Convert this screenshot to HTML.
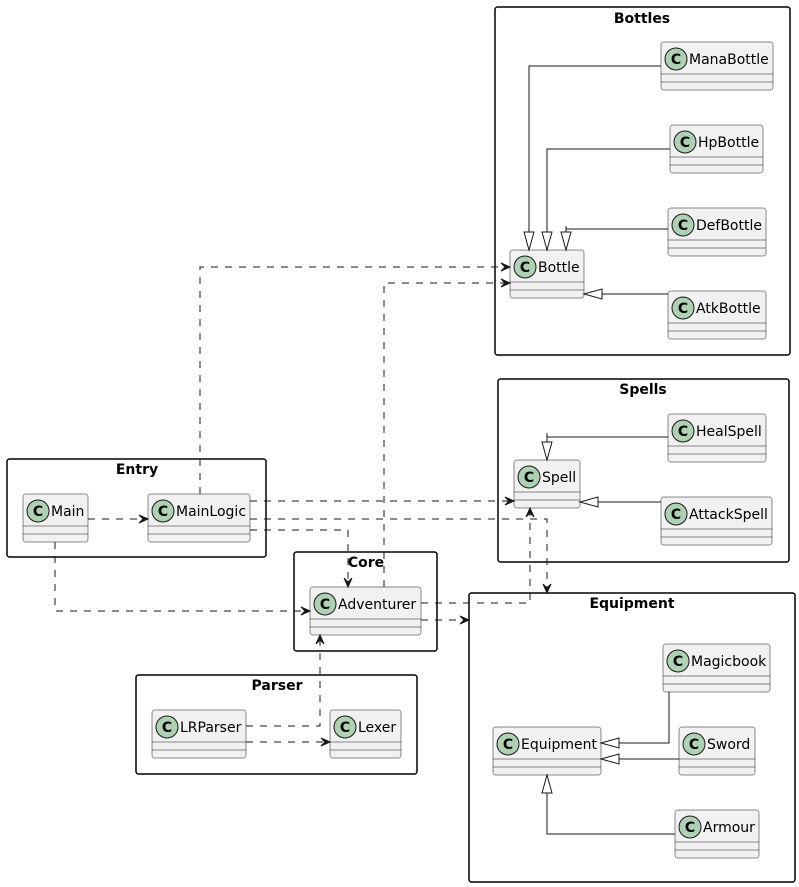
<!DOCTYPE html>
<html><head><meta charset="utf-8"><style>
html,body{margin:0;padding:0;background:#fff;}
svg{display:block;}
text{font-family:"DejaVu Sans","Liberation Sans",sans-serif;}
.cls{fill:#F1F1F1;stroke:#181818;stroke-width:0.5;}
.circ{fill:#ADD1B2;stroke:#181818;stroke-width:1;}
.cl{font-size:14px;font-weight:bold;fill:#000;text-anchor:middle;}
.nm{font-size:14px;fill:#000;}
.div{stroke:#181818;stroke-width:0.5;}
.pkg{fill:none;stroke:#000;stroke-width:1.5;}
.pt{font-size:14px;font-weight:bold;text-anchor:middle;fill:#000;}
.dash{fill:none;stroke:#181818;stroke-width:1;stroke-dasharray:7,7;}
.sol{fill:none;stroke:#181818;stroke-width:1;}
.ah{fill:#181818;stroke:#181818;stroke-width:1;}
.tri{fill:#fff;stroke:#181818;stroke-width:1;}
</style></head><body>
<svg width="799" height="887" viewBox="0 0 799 887" xmlns="http://www.w3.org/2000/svg">
<!-- packages -->
<rect class="pkg" x="495" y="7" width="295" height="348" rx="2.5"/>
<text class="pt" x="642" y="23">Bottles</text>
<rect class="pkg" x="498" y="379" width="291" height="183" rx="2.5"/>
<text class="pt" x="643" y="394">Spells</text>
<rect class="pkg" x="469" y="593" width="326" height="289" rx="2.5"/>
<text class="pt" x="632" y="608">Equipment</text>
<rect class="pkg" x="7" y="459" width="259" height="98" rx="2.5"/>
<text class="pt" x="137" y="474">Entry</text>
<rect class="pkg" x="294" y="552" width="143" height="99" rx="2.5"/>
<text class="pt" x="366" y="567">Core</text>
<rect class="pkg" x="136" y="675" width="281" height="99" rx="2.5"/>
<text class="pt" x="277" y="690">Parser</text>

<!-- classes -->
<g>
<rect class="cls" x="661" y="42" width="112" height="48" rx="2.5"/><circle class="circ" cx="676" cy="59" r="11"/><text class="cl" x="676" y="64">C</text><text class="nm" x="689" y="64">ManaBottle</text><line class="div" x1="661" y1="74" x2="773" y2="74"/><line class="div" x1="661" y1="82" x2="773" y2="82"/>
</g>
<g>
<rect class="cls" x="670" y="125" width="93" height="48" rx="2.5"/><circle class="circ" cx="685" cy="142" r="11"/><text class="cl" x="685" y="147">C</text><text class="nm" x="698" y="147">HpBottle</text><line class="div" x1="670" y1="157" x2="763" y2="157"/><line class="div" x1="670" y1="165" x2="763" y2="165"/>
</g>
<g>
<rect class="cls" x="668" y="208" width="98" height="48" rx="2.5"/><circle class="circ" cx="683" cy="225" r="11"/><text class="cl" x="683" y="230">C</text><text class="nm" x="696" y="230">DefBottle</text><line class="div" x1="668" y1="240" x2="766" y2="240"/><line class="div" x1="668" y1="248" x2="766" y2="248"/>
</g>
<g>
<rect class="cls" x="510" y="250" width="74" height="48" rx="2.5"/><circle class="circ" cx="525" cy="267" r="11"/><text class="cl" x="525" y="272">C</text><text class="nm" x="538" y="272">Bottle</text><line class="div" x1="510" y1="282" x2="584" y2="282"/><line class="div" x1="510" y1="290" x2="584" y2="290"/>
</g>
<g>
<rect class="cls" x="668" y="291" width="98" height="48" rx="2.5"/><circle class="circ" cx="683" cy="308" r="11"/><text class="cl" x="683" y="313">C</text><text class="nm" x="696" y="313">AtkBottle</text><line class="div" x1="668" y1="323" x2="766" y2="323"/><line class="div" x1="668" y1="331" x2="766" y2="331"/>
</g>
<g>
<rect class="cls" x="668" y="414" width="98" height="48" rx="2.5"/><circle class="circ" cx="683" cy="431" r="11"/><text class="cl" x="683" y="436">C</text><text class="nm" x="696" y="436">HealSpell</text><line class="div" x1="668" y1="446" x2="766" y2="446"/><line class="div" x1="668" y1="454" x2="766" y2="454"/>
</g>
<g>
<rect class="cls" x="514" y="460" width="66" height="48" rx="2.5"/><circle class="circ" cx="529" cy="477" r="11"/><text class="cl" x="529" y="482">C</text><text class="nm" x="542" y="482">Spell</text><line class="div" x1="514" y1="492" x2="580" y2="492"/><line class="div" x1="514" y1="500" x2="580" y2="500"/>
</g>
<g>
<rect class="cls" x="661" y="497" width="111" height="48" rx="2.5"/><circle class="circ" cx="676" cy="514" r="11"/><text class="cl" x="676" y="519">C</text><text class="nm" x="689" y="519">AttackSpell</text><line class="div" x1="661" y1="529" x2="772" y2="529"/><line class="div" x1="661" y1="537" x2="772" y2="537"/>
</g>
<g>
<rect class="cls" x="663" y="644" width="107" height="48" rx="2.5"/><circle class="circ" cx="678" cy="661" r="11"/><text class="cl" x="678" y="666">C</text><text class="nm" x="691" y="666">Magicbook</text><line class="div" x1="663" y1="676" x2="770" y2="676"/><line class="div" x1="663" y1="684" x2="770" y2="684"/>
</g>
<g>
<rect class="cls" x="493" y="727" width="108" height="48" rx="2.5"/><circle class="circ" cx="508" cy="744" r="11"/><text class="cl" x="508" y="749">C</text><text class="nm" x="521" y="749">Equipment</text><line class="div" x1="493" y1="759" x2="601" y2="759"/><line class="div" x1="493" y1="767" x2="601" y2="767"/>
</g>
<g>
<rect class="cls" x="679" y="727" width="76" height="48" rx="2.5"/><circle class="circ" cx="694" cy="744" r="11"/><text class="cl" x="694" y="749">C</text><text class="nm" x="707" y="749">Sword</text><line class="div" x1="679" y1="759" x2="755" y2="759"/><line class="div" x1="679" y1="767" x2="755" y2="767"/>
</g>
<g>
<rect class="cls" x="675" y="810" width="84" height="48" rx="2.5"/><circle class="circ" cx="690" cy="827" r="11"/><text class="cl" x="690" y="832">C</text><text class="nm" x="703" y="832">Armour</text><line class="div" x1="675" y1="842" x2="759" y2="842"/><line class="div" x1="675" y1="850" x2="759" y2="850"/>
</g>
<g>
<rect class="cls" x="23" y="494" width="65" height="48" rx="2.5"/><circle class="circ" cx="38" cy="511" r="11"/><text class="cl" x="38" y="516">C</text><text class="nm" x="51" y="516">Main</text><line class="div" x1="23" y1="526" x2="88" y2="526"/><line class="div" x1="23" y1="534" x2="88" y2="534"/>
</g>
<g>
<rect class="cls" x="148" y="494" width="102" height="48" rx="2.5"/><circle class="circ" cx="163" cy="511" r="11"/><text class="cl" x="163" y="516">C</text><text class="nm" x="176" y="516">MainLogic</text><line class="div" x1="148" y1="526" x2="250" y2="526"/><line class="div" x1="148" y1="534" x2="250" y2="534"/>
</g>
<g>
<rect class="cls" x="310" y="587" width="111" height="48" rx="2.5"/><circle class="circ" cx="325" cy="604" r="11"/><text class="cl" x="325" y="609">C</text><text class="nm" x="338" y="609">Adventurer</text><line class="div" x1="310" y1="619" x2="421" y2="619"/><line class="div" x1="310" y1="627" x2="421" y2="627"/>
</g>
<g>
<rect class="cls" x="152" y="710" width="94" height="48" rx="2.5"/><circle class="circ" cx="167" cy="727" r="11"/><text class="cl" x="167" y="732">C</text><text class="nm" x="180" y="732">LRParser</text><line class="div" x1="152" y1="742" x2="246" y2="742"/><line class="div" x1="152" y1="750" x2="246" y2="750"/>
</g>
<g>
<rect class="cls" x="330" y="710" width="71" height="48" rx="2.5"/><circle class="circ" cx="345" cy="727" r="11"/><text class="cl" x="345" y="732">C</text><text class="nm" x="358" y="732">Lexer</text><line class="div" x1="330" y1="742" x2="401" y2="742"/><line class="div" x1="330" y1="750" x2="401" y2="750"/>
</g>

<!-- generalization edges -->
<polyline class="sol" points="661,66 529,66 529,232"/>
<polygon class="tri" points="529,250 524,232 534,232"/>
<polyline class="sol" points="670,149 547,149 547,232"/>
<polygon class="tri" points="547,250 542,232 552,232"/>
<polyline class="sol" points="668,229 566,229 566,232"/>
<line class="sol" x1="566" y1="226" x2="566" y2="232"/>
<polygon class="tri" points="566,250 561,232 571,232"/>
<line class="sol" x1="668" y1="294" x2="602" y2="294"/>
<polygon class="tri" points="584,294 602,289 602,299"/>

<polyline class="sol" points="668,437 547,437 547,442"/>
<line class="sol" x1="547" y1="433" x2="547" y2="442"/>
<polygon class="tri" points="547,460 542,442 552,442"/>
<line class="sol" x1="661" y1="502" x2="598" y2="502"/>
<polygon class="tri" points="580,502 598,497 598,507"/>

<polyline class="sol" points="669,692 669,743 619,743"/>
<polygon class="tri" points="601,743 619,738 619,748"/>
<line class="sol" x1="679" y1="759" x2="619" y2="759"/>
<polygon class="tri" points="601,759 619,754 619,764"/>
<polyline class="sol" points="675,834 547,834 547,793"/>
<polygon class="tri" points="547,775 542,793 552,793"/>

<!-- dependency edges -->
<polyline class="dash" points="200,494 200,267 509,267"/>
<polygon class="ah" points="510,267 501,263 505,267 501,271"/>
<polyline class="dash" points="384,587 384,283 509,283"/>
<polygon class="ah" points="510,283 501,279 505,283 501,287"/>

<line class="dash" x1="88" y1="519" x2="147" y2="519"/>
<polygon class="ah" points="148,519 139,515 143,519 139,523"/>
<polyline class="dash" points="55,542 55,611 309,611"/>
<polygon class="ah" points="310,611 301,607 305,611 301,615"/>

<line class="dash" x1="250" y1="501" x2="513" y2="501"/>
<polygon class="ah" points="514,501 505,497 509,501 505,505"/>
<polyline class="dash" points="250,519 547,519 547,592"/>
<polygon class="ah" points="547,593 543,584 547,588 551,584"/>
<polyline class="dash" points="250,530 348,530 348,586"/>
<polygon class="ah" points="348,587 344,578 348,582 352,578"/>

<polyline class="dash" points="421,603 530,603 530,509"/>
<polygon class="ah" points="530,508 526,517 530,513 534,517"/>
<line class="dash" x1="421" y1="620" x2="468" y2="620"/>
<polygon class="ah" points="469,620 460,616 464,620 460,624"/>

<polyline class="dash" points="246,726 320,726 320,636"/>
<polygon class="ah" points="320,635 316,644 320,640 324,644"/>
<line class="dash" x1="246" y1="742" x2="329" y2="742"/>
<polygon class="ah" points="330,742 321,738 325,742 321,746"/>
</svg>
</body></html>
